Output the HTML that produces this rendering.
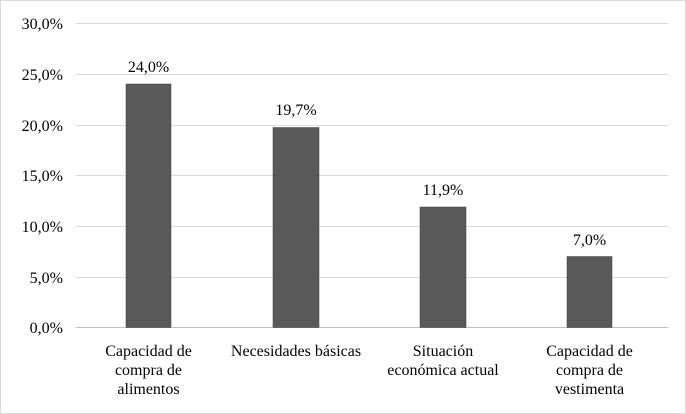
<!DOCTYPE html>
<html><head><meta charset="utf-8"><style>body{margin:0;background:#fff}svg{display:block}text{font-family:"Liberation Serif","Times New Roman",Times,"DejaVu Serif","Noto Serif CJK SC",serif;font-size:16px}</style></head><body>
<svg width="686" height="414" xmlns="http://www.w3.org/2000/svg" fill="#000">
<rect x="0.5" y="0.5" width="685" height="413" fill="#fff" stroke="#d9d9d9"/>
<g stroke="#d9d9d9" stroke-width="1">
<line x1="76" x2="668" y1="23.5" y2="23.5"/>
<line x1="76" x2="668" y1="74.5" y2="74.5"/>
<line x1="76" x2="668" y1="125.5" y2="125.5"/>
<line x1="76" x2="668" y1="175.5" y2="175.5"/>
<line x1="76" x2="668" y1="226.5" y2="226.5"/>
<line x1="76" x2="668" y1="277.5" y2="277.5"/>
</g>
<line x1="76" x2="668" y1="327.5" y2="327.5" stroke="#bfbfbf"/>
<g text-anchor="end">
<text x="63" y="29">30,0%</text><text x="63" y="80">25,0%</text><text x="63" y="131">20,0%</text>
<text x="63" y="181">15,0%</text><text x="63" y="232">10,0%</text><text x="63" y="283">5,0%</text><text x="63" y="333">0,0%</text>
</g>
<g fill="#595959" stroke="#404040" stroke-width="0.5">
<rect x="126" y="84" width="45" height="243.5"/>
<rect x="273" y="127.5" width="46" height="200"/>
<rect x="420" y="207" width="46" height="120.5"/>
<rect x="567" y="256.5" width="45" height="71"/>
</g>
<g text-anchor="middle">
<text x="148.5" y="72">24,0%</text><text x="296" y="115">19,7%</text>
<text x="443" y="195">11,9%</text><text x="589.5" y="245">7,0%</text>
<text x="148.5" y="356">Capacidad de</text><text x="148.5" y="375">compra de</text><text x="148.5" y="394">alimentos</text>
<text x="296" y="356">Necesidades básicas</text>
<text x="443" y="356">Situación</text><text x="443" y="375">económica actual</text>
<text x="589.5" y="356">Capacidad de</text><text x="589.5" y="375">compra de</text><text x="589.5" y="394">vestimenta</text>
</g>
</svg>
</body></html>
